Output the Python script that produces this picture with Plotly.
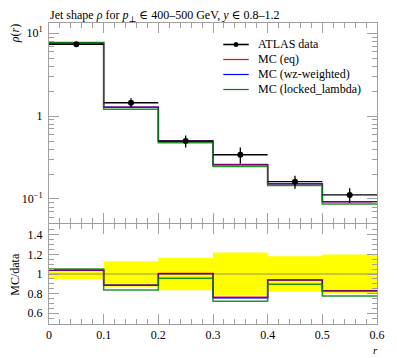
import plotly.graph_objects as go
import numpy as np

edges = [0.0, 0.1, 0.2, 0.3, 0.4, 0.5, 0.6]
centers = [0.05, 0.15, 0.25, 0.35, 0.45, 0.55]
data_vals = [7.36, 1.45, 0.50, 0.342, 0.162, 0.112]
data_relerr = [0.05, 0.13, 0.165, 0.22, 0.18, 0.20]
ratio_eq = [1.038, 0.885, 1.005, 0.762, 0.940, 0.828]
ratio_wz = [1.040, 0.888, 1.003, 0.752, 0.938, 0.826]
ratio_ll = [1.052, 0.837, 0.956, 0.722, 0.895, 0.776]
legend_names = ["ATLAS data", "MC (eq)", "MC (wz-weighted)", "MC (locked_lambda)"]
legend_colors = ["black", "red", "blue", "green"]

data_vals = np.array(data_vals)
relerr = np.array(data_relerr)
mc_eq = data_vals * np.array(ratio_eq)
mc_wz = data_vals * np.array(ratio_wz)
mc_ll = data_vals * np.array(ratio_ll)

def step(v):
    v = list(v)
    return v + [v[-1]]

RED = "rgba(230,0,0,1)"
BLUE = "rgba(0,0,255,0.6)"
GREEN = "rgba(0,128,0,0.85)"
FONT = "Liberation Serif, DejaVu Serif, serif"

fig = go.Figure()

for vals, col, name in [(mc_eq, RED, "MC (eq)"), (mc_wz, BLUE, "MC (wz-weighted)"), (mc_ll, GREEN, "MC (locked_lambda)")]:
    fig.add_trace(go.Scatter(x=edges, y=step(vals), mode="lines", line=dict(color=col, width=1.5, shape="hv"),
                             name=name, xaxis="x", yaxis="y", showlegend=False))

fig.add_trace(go.Scatter(x=centers, y=data_vals, mode="markers",
                         marker=dict(color="black", size=6),
                         error_x=dict(type="constant", value=0.05, color="black", thickness=1.3, width=0),
                         error_y=dict(type="data", array=data_vals * relerr, color="black", thickness=1.3, width=0),
                         xaxis="x", yaxis="y", showlegend=False))

fig.add_trace(go.Scatter(x=edges, y=step(1 - relerr), mode="lines", line=dict(width=0, shape="hv", color="yellow"),
                         xaxis="x2", yaxis="y2", showlegend=False))
fig.add_trace(go.Scatter(x=edges, y=step(1 + relerr), mode="lines", line=dict(width=0, shape="hv", color="yellow"),
                         fill="tonexty", fillcolor="#ffff00", xaxis="x2", yaxis="y2", showlegend=False))
fig.add_trace(go.Scatter(x=[edges[0], edges[-1]], y=[1, 1], mode="lines", line=dict(color="rgba(120,120,80,0.8)", width=1),
                         xaxis="x2", yaxis="y2", showlegend=False))
for vals, col in [(ratio_eq, RED), (ratio_wz, BLUE), (ratio_ll, GREEN)]:
    fig.add_trace(go.Scatter(x=edges, y=step(vals), mode="lines", line=dict(color=col, width=1.5, shape="hv"),
                             xaxis="x2", yaxis="y2", showlegend=False))

axcol = "#a0a0a0"
tickfont = dict(family=FONT, size=12, color="black")
common_x = dict(range=[0, 0.6], tickvals=edges, ticks="inside", ticklen=10, tickcolor=axcol, tickwidth=1,
                showline=True, linecolor=axcol, linewidth=1, mirror="ticks", showgrid=False, zeroline=False,
                minor=dict(dtick=0.02, tick0=0, ticks="inside", ticklen=5, tickcolor=axcol, showgrid=False))

minor_log = [m * 10.0 ** e for e in (-2, -1, 0, 1) for m in range(2, 10)]

# page has an 8px body margin; plot area spans page x 49..384, y 23..324
PW, PH = 335.0, 301.0
def px(xp): return (xp - 49.0) / PW
def py(yp): return (324.0 - yp) / PH

shapes = []
annotations = []
for i, (nm, col) in enumerate(zip(legend_names, legend_colors)):
    yrow = 44.5 + 15 * i
    shapes.append(dict(type="line", xref="paper", yref="paper", x0=px(227), x1=px(253), y0=py(yrow), y1=py(yrow),
                       line=dict(color=col, width=1.6 if i == 0 else 1.2)))
    annotations.append(dict(text=nm, xref="paper", yref="paper", x=px(260), y=py(yrow), xanchor="left", yanchor="middle",
                            showarrow=False, font=dict(family=FONT, size=12, color="black")))
shapes.append(dict(type="circle", xref="paper", yref="paper", x0=px(237.5), x1=px(242.5), y0=py(47), y1=py(42),
                   fillcolor="black", line=dict(color="black", width=0)))

annotations += [
    dict(text="Jet shape <i>ρ</i> for <i>p</i><sub>⊥</sub> ∈ 400–500 GeV, <i>y</i> ∈ 0.8–1.2",
         xref="paper", yref="paper", x=0, y=py(16), xanchor="left", yanchor="middle", borderpad=0,
         showarrow=False, font=dict(family=FONT, size=12)),
    dict(text="<i>ρ</i>(<i>r</i>)", xref="paper", yref="paper", x=px(14), y=1.0, xanchor="center", yanchor="top",
         textangle=-90, borderpad=0, showarrow=False, font=dict(family=FONT, size=12)),
    dict(text="MC/data", xref="paper", yref="paper", x=px(14), y=py(274), xanchor="center", yanchor="middle",
         textangle=-90, borderpad=0, showarrow=False, font=dict(family=FONT, size=12)),
    dict(text="<i>r</i>", xref="paper", yref="paper", x=px(382), y=py(350), xanchor="center", yanchor="middle",
         borderpad=0, showarrow=False, font=dict(family=FONT, size=11)),
]

fig.update_layout(
    width=389, height=350,
    margin=dict(l=41, r=13, t=15, b=34),
    plot_bgcolor="white", paper_bgcolor="white",
    font=dict(family=FONT, size=12, color="black"),
    xaxis=dict(common_x, domain=[0, 1], anchor="y", showticklabels=False),
    yaxis=dict(type="log", domain=[0.3355, 1], anchor="x", range=[-1.29, 1.124],
               tickvals=[0.1, 1, 10], ticktext=["10<sup>−1</sup>", "1", "10<sup>1</sup>"],
               ticks="inside", ticklen=10, tickcolor=axcol, showline=True, linecolor=axcol, mirror="ticks",
               showgrid=False, zeroline=False, tickfont=tickfont, ticklabelstandoff=3,
               minor=dict(tickvals=minor_log, ticks="inside", ticklen=5, tickcolor=axcol, showgrid=False)),
    xaxis2=dict(common_x, domain=[0, 1], anchor="y2", showticklabels=True, tickfont=tickfont,
                ticktext=["0", "0.1", "0.2", "0.3", "0.4", "0.5", "0.6"], ticklabelstandoff=0,
                ticklabeloverflow="allow"),
    yaxis2=dict(domain=[0, 0.3322], anchor="x2", range=[0.49, 1.51],
                tickvals=[0.6, 0.8, 1.0, 1.2, 1.4], ticktext=["0.6", "0.8", "1", "1.2", "1.4"],
                ticks="inside", ticklen=10, tickcolor=axcol, showline=True, linecolor=axcol, mirror="ticks",
                showgrid=False, zeroline=False, tickfont=tickfont, ticklabelstandoff=3,
                minor=dict(dtick=0.05, tick0=0, ticks="inside", ticklen=5, tickcolor=axcol, showgrid=False)),
    showlegend=False,
    shapes=shapes,
    annotations=annotations,
)

fig.write_html("out.html")
